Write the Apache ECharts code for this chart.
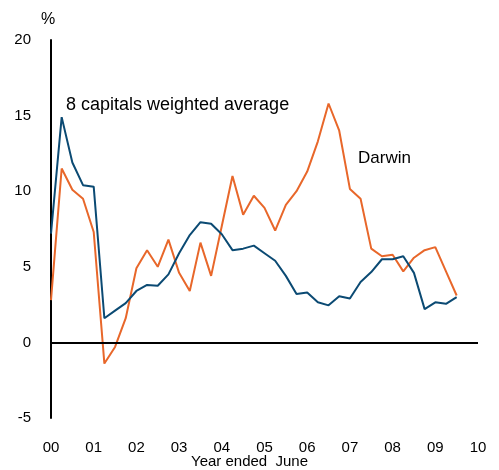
<!DOCTYPE html>
<html><head><meta charset="utf-8">
<script src="https://cdn.jsdelivr.net/npm/echarts@6/dist/echarts.min.js"></script>
<style>html,body{margin:0;padding:0;background:#fff}#c{width:499px;height:470px}</style>
</head><body><div id="c"></div>
<script>
// Quarterly observations, years since 2000 (year ended June)
const quarters = [0,0.25,0.5,0.75,1,1.25,1.5,1.75,2,2.25,2.5,2.75,3,3.25,3.5,3.75,4,4.25,4.5,4.75,5,5.25,5.5,5.75,6,6.25,6.5,6.75,7,7.25,7.5,7.75,8,8.25,8.5,8.75,9,9.25,9.5];
const capitals = [7.2,14.9,11.9,10.4,10.3,1.6,2.1,2.6,3.4,3.8,3.75,4.5,5.9,7.1,7.95,7.85,7.15,6.1,6.2,6.4,5.9,5.4,4.4,3.2,3.3,2.65,2.45,3.05,2.9,4.0,4.65,5.5,5.5,5.7,4.6,2.2,2.65,2.55,3.0];
const darwin = [2.8,11.5,10.1,9.5,7.3,-1.4,-0.3,1.6,4.9,6.1,5.0,6.8,4.6,3.4,6.6,4.4,7.7,11.0,8.45,9.7,8.9,7.4,9.1,10.0,11.3,13.3,15.8,14.0,10.15,9.5,6.2,5.7,5.8,4.7,5.6,6.1,6.3,4.7,3.1];
const xTickLabels = ['00','01','02','03','04','05','06','07','08','09','10'];
const yTicks = [-5,0,5,10,15,20];

const font = '"Liberation Sans", Arial, Helvetica, sans-serif';
const chart = echarts.init(document.getElementById('c'), null, {renderer:'canvas'});
const pair = arr => quarters.map((q,i)=>[q,arr[i]]);
chart.setOption({
  animation:false,
  grid:{left:51,right:21,top:40,bottom:52},
  xAxis:{type:'value',min:0,max:10,interval:1,
    axisLine:{show:false},axisTick:{show:false},splitLine:{show:false},
    axisLabel:{margin:22,fontSize:15,color:'#000',fontFamily:font,
      formatter:v=>xTickLabels[Math.round(v)]}},
  yAxis:{type:'value',min:yTicks[0],max:yTicks[yTicks.length-1],interval:5,
    axisLine:{show:true,onZero:false,lineStyle:{color:'#000',width:2}},
    axisTick:{show:false},splitLine:{show:false},
    axisLabel:{margin:20,fontSize:15,color:'#000',fontFamily:font}},
  series:[
    {type:'line',data:pair(capitals),showSymbol:false,lineStyle:{color:'#0b4a73',width:2},z:3,
     markLine:{silent:true,symbol:['none','none'],label:{show:false},
       lineStyle:{color:'#000',width:2,type:'solid'},data:[{yAxis:0}]}},
    {type:'line',data:pair(darwin),showSymbol:false,lineStyle:{color:'#e8672a',width:2},z:2}
  ],
  graphic:[
    {type:'text',left:41,top:12,style:{text:'%',font:'16px '+font,fill:'#000'}},
    {type:'text',left:66,top:96,style:{text:'8 capitals weighted average',font:'18px '+font,fill:'#000'}},
    {type:'text',left:358,top:150,style:{text:'Darwin',font:'17px '+font,fill:'#000'}},
    {type:'text',left:191,top:454,style:{text:'Year ended  June',font:'15px '+font,fill:'#000'}}
  ]
});
</script></body></html>
